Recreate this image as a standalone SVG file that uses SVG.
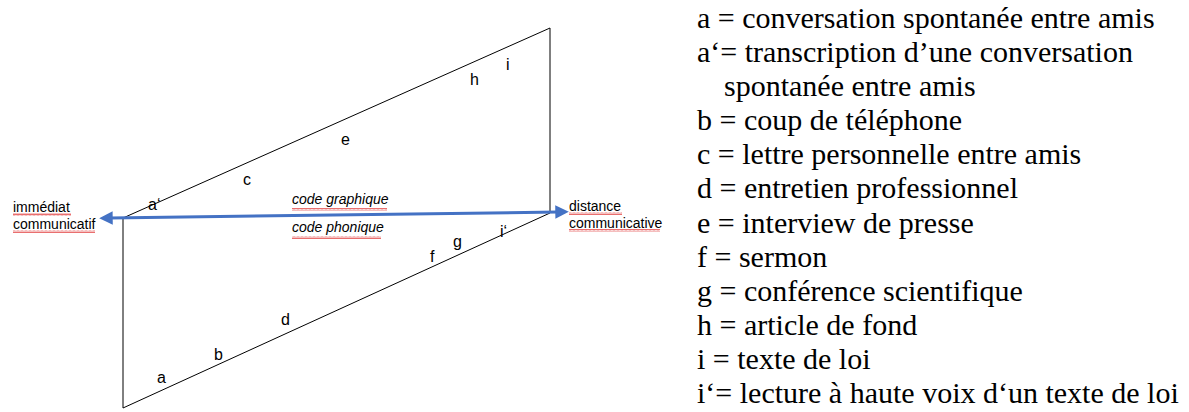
<svg xmlns="http://www.w3.org/2000/svg" width="1189" height="412" viewBox="0 0 1189 412">
  <style>
    .frame { fill: none; stroke: #000; stroke-width: 1; }
    .lbl { font-family: "Liberation Sans", Arial, sans-serif; font-size: 14px; fill: #000; }
    .it { font-style: italic; }
    .pt { font-family: "Liberation Sans", Arial, sans-serif; font-size: 16px; fill: #000; }
    .leg { font-size: 30px; fill: #000; }
    .squig { fill: url(#wave); }
    .arrow { stroke: #4472C4; stroke-width: 3; fill: none; }
  </style>
  <defs>
    <pattern id="wave" width="4" height="3" patternUnits="userSpaceOnUse">
      <path d="M0 2.5 L1 0.5 L2 2.5 L3 0.5 L4 2.5" fill="none" stroke="#e03030" stroke-width="0.7"/>
    </pattern>
    <marker id="ah" viewBox="0 0 10 10" refX="2" refY="5" markerWidth="4.5" markerHeight="4.5" orient="auto-start-reverse" markerUnits="strokeWidth">
      <path d="M0 0 L10 5 L0 10 Z" fill="#4472C4"/>
    </marker>
  </defs>
  <rect width="1189" height="412" fill="#fff"/>

  <g id="parallelogram">
    <polygon class="frame" points="123,218 550,28 550,213 123,408"/>
  </g>

  <g id="connectors">
    <line class="arrow" x1="110" y1="218" x2="558" y2="212" marker-start="url(#ah)" marker-end="url(#ah)"/>
  </g>

  <g id="pole-left">
    <text class="lbl" x="13" y="212">immédiat</text>
    <text class="lbl" x="13" y="229">communicatif</text>
  </g>
  <g id="pole-right">
    <text class="lbl" x="569" y="211">distance</text>
    <text class="lbl" x="569" y="228">communicative</text>
  </g>
  <g id="codes">
    <text class="lbl it" x="292" y="204">code graphique</text>
    <text class="lbl it" x="292" y="232">code phonique</text>
  </g>

  <g id="spellcheck">
    <rect class="squig" x="13" y="213" width="58" height="3"/>
    <rect class="squig" x="13" y="230" width="82" height="3"/>
    <rect class="squig" x="569" y="212" width="53" height="3"/>
    <rect class="squig" x="569" y="229" width="91" height="3"/>
    <rect class="squig" x="292" y="208" width="95" height="3"/>
    <rect class="squig" x="292" y="236" width="89" height="3"/>
  </g>

  <g id="points">
    <text class="pt" x="148" y="210">a‘</text>
    <text class="pt" x="243" y="185">c</text>
    <text class="pt" x="341" y="145">e</text>
    <text class="pt" x="470" y="85">h</text>
    <text class="pt" x="506" y="70">i</text>
    <text class="pt" x="430" y="262">f</text>
    <text class="pt" x="453" y="247">g</text>
    <text class="pt" x="500" y="237">i‘</text>
    <text class="pt" x="281" y="325">d</text>
    <text class="pt" x="214" y="360">b</text>
    <text class="pt" x="157" y="383">a</text>
  </g>

  <g id="legend" font-family="Liberation Serif, Tinos, Times New Roman, DejaVu Serif, Noto Serif, FreeSerif, serif">
    <text class="leg" x="697" y="28">a = conversation spontanée entre amis</text>
    <text class="leg" x="697" y="62">a‘= transcription d’une conversation</text>
    <text class="leg" x="724" y="96">spontanée entre amis</text>
    <text class="leg" x="697" y="130">b = coup de téléphone</text>
    <text class="leg" x="697" y="164">c = lettre personnelle entre amis</text>
    <text class="leg" x="697" y="198">d = entretien professionnel</text>
    <text class="leg" x="697" y="233">e = interview de presse</text>
    <text class="leg" x="697" y="267">f = sermon</text>
    <text class="leg" x="697" y="301">g = conférence scientifique</text>
    <text class="leg" x="697" y="335">h = article de fond</text>
    <text class="leg" x="697" y="369">i = texte de loi</text>
    <text class="leg" x="697" y="403">i‘= lecture à haute voix d‘un texte de loi</text>
  </g>
</svg>
